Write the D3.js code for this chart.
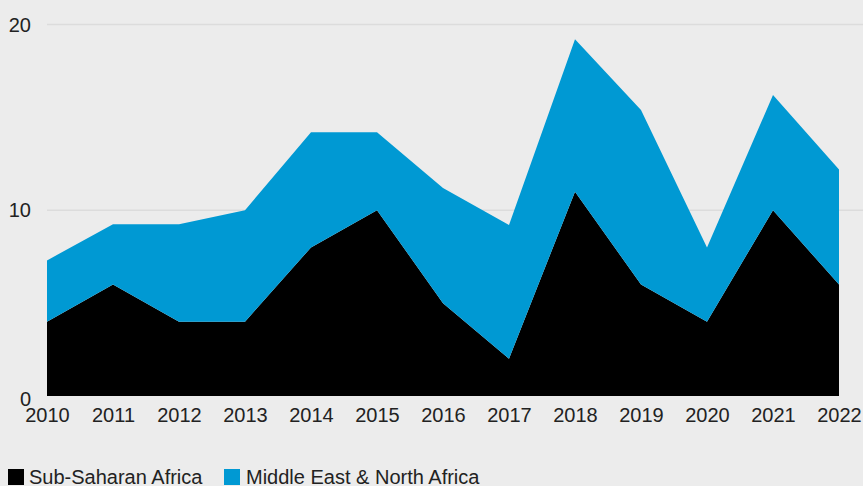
<!DOCTYPE html>
<html><head><meta charset="utf-8">
<script src="https://cdn.jsdelivr.net/npm/d3@7"></script>
<style>
html,body{margin:0;padding:0;background:#ececec;}
svg{display:block;font-family:"Liberation Sans",Arial,sans-serif;}
</style></head>
<body><svg id="c" width="863" height="486"></svg>
<script>
const years = [2010,2011,2012,2013,2014,2015,2016,2017,2018,2019,2020,2021,2022];
const subSaharan = [4,6,4,4,8,10,5,2,11,6,4,10,6];
const mena = [3.3,3.25,5.25,6,6.2,4.2,6.2,7.2,8.2,9.4,4,6.2,6.2];
const yTicks = [0,10,20];
const seriesNames = ["Sub-Saharan Africa","Middle East & North Africa"];
const colors = ["#000000","#0099d3"];

const svg = d3.select("#c");
const x = d3.scaleLinear().domain([2010,2022]).range([47,839]);
const y = d3.scaleLinear().domain([0,20]).range([396,24.5]);

const table = years.map((yr,i)=>({year:yr, s:subSaharan[i], m:mena[i]}));
const stack = d3.stack().keys(["s","m"])(table);

// gridlines
svg.append("g").selectAll("line").data(yTicks.filter(d=>d>0)).join("line")
  .attr("x1",47).attr("x2",863)
  .attr("y1",d=>y(d)).attr("y2",d=>y(d))
  .attr("stroke","#dcdcdc").attr("stroke-width",1.5);

const area = d3.area().x(d=>x(d.data.year)).y0(d=>y(d[0])).y1(d=>y(d[1]));
svg.append("g").selectAll("path").data(stack).join("path")
  .attr("d",area).attr("fill",(d,i)=>colors[i]);

// y axis labels
svg.append("g").selectAll("text").data(yTicks).join("text")
  .attr("x",31).attr("y",d=>y(d)+(d===0?3:0))
  .attr("text-anchor","end").attr("dominant-baseline","central")
  .attr("font-size",20).attr("fill","#222").text(d=>d);

// x axis labels
const xAxis = d3.axisBottom(x).tickValues(years).tickFormat(d3.format("d")).tickSize(0).tickPadding(12);
const gx = svg.append("g").attr("transform","translate(0,396)").call(xAxis);
gx.select(".domain").remove();
gx.selectAll("text").attr("font-size",20).attr("fill","#222").attr("font-family","Liberation Sans, Arial, sans-serif");

// legend
const leg = [{x:8,tx:29},{x:224,tx:246}];
const lg = svg.append("g");
leg.forEach((p,i)=>{
  lg.append("rect").attr("x",p.x).attr("y",469).attr("width",16).attr("height",16).attr("fill",colors[i]);
  lg.append("text").attr("x",p.tx).attr("y",484).attr("font-size",20).attr("fill","#222").text(seriesNames[i]);
});
</script></body></html>
